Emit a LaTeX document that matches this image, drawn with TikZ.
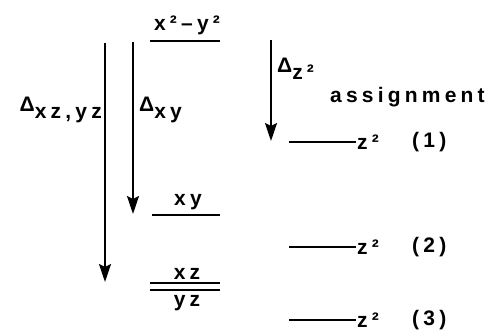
\documentclass[tikz,border=0pt]{standalone}
\usepackage{fontspec}
\usepackage{tikz}
\usetikzlibrary{arrows.meta, positioning, calc}
\newfontfamily\lvlfont{Liberation Sans}[LetterSpace=20]
\tikzset{
    lvl/.style  ={line width=2.8pt},
    gap/.style  ={-{Stealth[length=18pt, width=12pt, inset=3pt]}, line width=2pt},
    txt/.style  ={font=\lvlfont\bfseries\fontsize{21}{24}\selectfont, inner sep=1pt},
    dlt/.style  ={txt, font=\lvlfont\bfseries\fontsize{21}{24}\selectfont}
}
\newcommand{\dsub}[1]{Δ\raisebox{-7pt}{#1}}

\begin{document}
\begin{tikzpicture}[x=1pt, y=-1pt]
  \useasboundingbox (0,0) rectangle (488,335);

  % levels of the d orbitals
  \coordinate (x2l) at (150,41);  \coordinate (x2r) at (220,41);
  \coordinate (xyl) at (152,215); \coordinate (xyr) at (220,215);
  \coordinate (xzl) at (150,283); \coordinate (xzr) at (220,283);
  \coordinate (yzl) at (150,290); \coordinate (yzr) at (220,290);
  \draw[lvl] (x2l) -- (x2r);
  \draw[lvl] (xyl) -- (xyr);
  \draw[lvl] (xzl) -- (xzr);
  \draw[lvl] (yzl) -- (yzr);
  \node[txt, anchor=south] (x2) at ($(x2l)!0.5!(x2r)+(2,-5)$) {x²–y²};
  \node[txt, anchor=south] (xy) at ($(xyl)!0.5!(xyr)+(2,-4)$) {xy};
  \node[txt, anchor=south] (xz) at ($(xzl)!0.5!(xzr)+(2,-2)$) {xz};
  \node[txt, anchor=north] (yz) at ($(yzl)!0.5!(yzr)+(2,4)$) {yz};

  % gaps
  \coordinate (a0) at (105,43);  \coordinate (a1) at (105,282);
  \coordinate (b0) at (133,42);  \coordinate (b1) at (133,214);
  \coordinate (c0) at (271,40);  \coordinate (c1) at (271,141);
  \draw[gap] (a0) -- (a1);
  \draw[gap] (b0) -- (b1);
  \draw[gap] (c0) -- (c1);
  \node[dlt, anchor=east] (dxz) at (103,110) {\dsub{xz,yz}};
  \node[dlt, anchor=west] (dxy) at (138,110) {\dsub{xy}};
  \node[dlt, anchor=west] (dz2) at (276,69)  {\dsub{z²}};

  % assignment of z^2
  \node[txt, anchor=west] (asg) at (329,97) {assignment};
  \foreach \i/\y in {1/142, 2/247, 3/320} {
    \coordinate (z\i l) at (289,\y);
    \coordinate (z\i r) at (356,\y);
    \draw[line width=2pt] (z\i l) -- (z\i r);
    \node[txt, anchor=west] (z\i) at (z\i r) {z²};
    \node[txt, anchor=west] (n\i) at (411,\y) {(\i)};
  }
\end{tikzpicture}
\end{document}
